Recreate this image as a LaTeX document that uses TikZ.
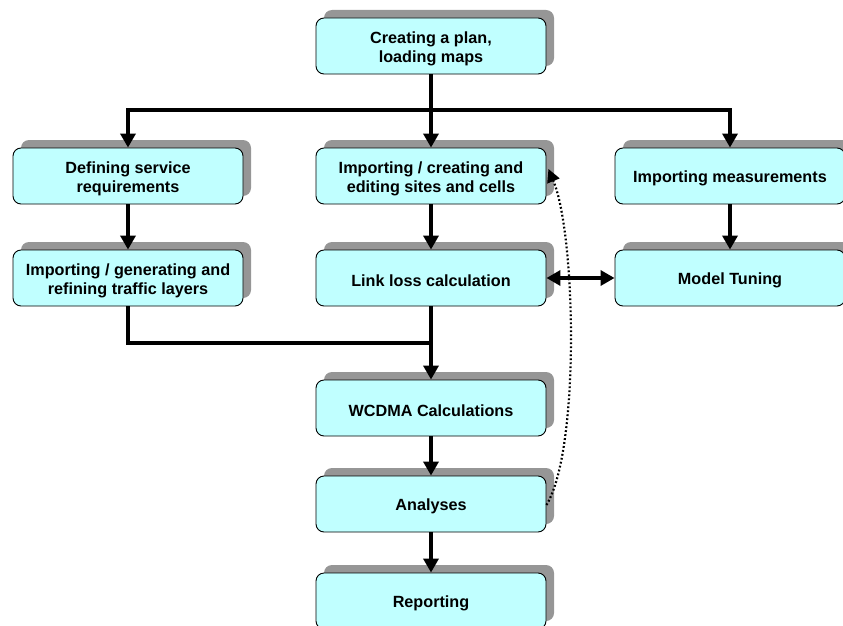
\documentclass[tikz,border=0pt]{standalone}
\usepackage{fontspec}
\setmainfont{Liberation Sans}
\usetikzlibrary{arrows.meta,shadows}
\definecolor{boxfill}{RGB}{192,255,255}
\definecolor{shadowgray}{RGB}{150,150,150}
% extra height on the first line lowers the text a little inside the box
\newcommand\firstline{\rule{0pt}{17pt}}
\begin{document}
\begin{tikzpicture}[x=1pt,y=-1pt,
  stepbox/.style={draw=black,line width=0.9pt,fill=boxfill,rounded corners=8pt,
    minimum width=230pt,minimum height=56pt,align=center,inner sep=2pt,
    font=\fontsize{16.2}{19.5}\selectfont\bfseries,
    general shadow={shadow xshift=8pt,shadow yshift=8pt,fill=shadowgray,draw=none}},
  flow/.style={line width=3.4pt},
  arr/.style={flow,-{Triangle[length=14pt,width=15pt]}},
  biarr/.style={flow,{Triangle[length=14pt,width=15pt]}-{Triangle[length=14pt,width=15pt]}},
  dots/.style={line width=2.2pt,dash pattern=on 1.8pt off 2.2pt,
    -{Triangle[length=13pt,width=13pt]}}]
\useasboundingbox (0,0) rectangle (843,626);
\begin{scope}
\clip (0,0) rectangle (843,626);
% process steps
\node[stepbox] (plan)    at (431,46)  {\firstline Creating a plan,\\loading maps};
\node[stepbox] (serv)    at (128,176) {\firstline Defining service\\requirements};
\node[stepbox] (sites)   at (431,176) {\firstline Importing / creating and\\editing sites and cells};
\node[stepbox] (meas)    at (730,176) {\firstline Importing measurements};
\node[stepbox] (traffic) at (128,278) {\firstline Importing / generating and\\refining traffic layers};
\node[stepbox] (link)    at (431,278) {\firstline Link loss calculation};
\node[stepbox] (tune)    at (730,278) {\firstline Model Tuning};
\node[stepbox] (wcdma)   at (431,408) {\firstline WCDMA Calculations};
\node[stepbox] (anal)    at (431,504) {\firstline Analyses};
\node[stepbox] (report)  at (431,601) {\firstline Reporting};
\end{scope}
% branch and merge points
\coordinate (split) at (431,110);
\coordinate (merge) at (431,343);
% connectors
\draw[flow] (plan.south) -- (split);
\draw[arr] (split) -| (serv.north);
\draw[arr] (split) -| (meas.north);
\draw[arr] (split) -- (sites.north);
\draw[arr] (serv.south) -- (traffic.north);
\draw[arr] (sites.south) -- (link.north);
\draw[arr] (meas.south) -- (tune.north);
\draw[biarr] (link.east) -- (tune.west);
\draw[flow] (traffic.south) |- (merge);
\draw[arr] (link.south) -- (wcdma.north);
\draw[arr] (wcdma.south) -- (anal.north);
\draw[arr] (anal.south) -- (report.north);
% feedback from the analyses to the site editing
\draw[dots] ([yshift=-1pt]anal.east) .. controls (580,450) and (576,235) .. ([xshift=2pt,yshift=7pt]sites.east);
\end{tikzpicture}
\end{document}
